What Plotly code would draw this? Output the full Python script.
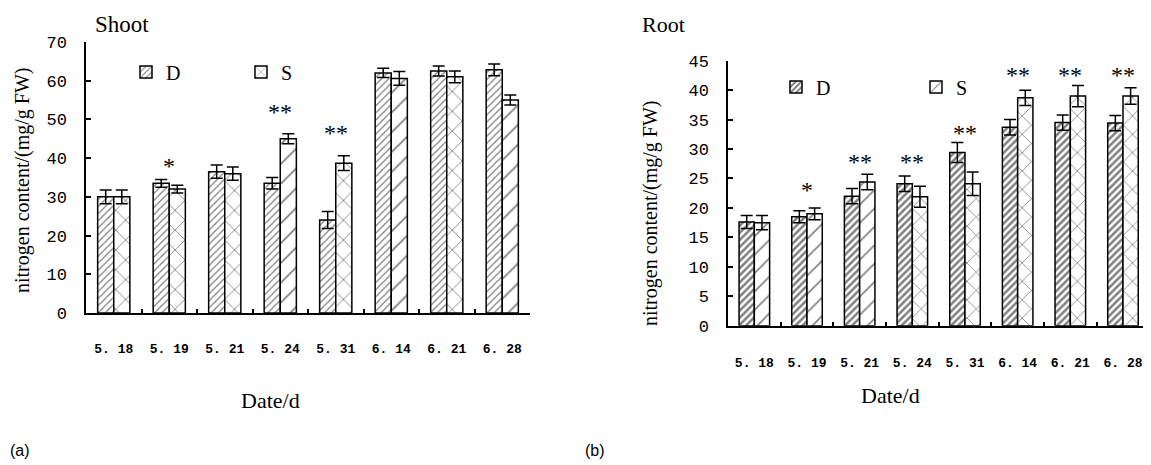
import plotly.graph_objects as go

# page has an 8px body margin; figure sized to fill the rest of the window
OFF = 8
W, H = 1151 - OFF, 465 - OFF

dates = ["5. 18", "5. 19", "5. 21", "5. 24", "5. 31", "6. 14", "6. 21", "6. 28"]

# Shoot (a)
shoot_D = [30.0, 33.5, 36.5, 33.5, 24.0, 62.0, 62.5, 62.8]
shoot_S = [30.0, 32.0, 36.0, 45.0, 38.7, 60.6, 61.0, 55.0]
shoot_D_err = [1.8, 1.0, 1.7, 1.5, 2.2, 1.2, 1.3, 1.5]
shoot_S_err = [1.8, 1.0, 1.7, 1.3, 1.9, 1.8, 1.5, 1.3]
shoot_sig = ["", "*", "", "**", "**", "", "*", "**"]
shoot_sig_y = [0, 39.5, 0, 53.5, 48.0, 0, 72.0, 75.5]

# Root (b)
root_D = [17.6, 18.5, 22.0, 24.1, 29.4, 33.7, 34.5, 34.4]
root_S = [17.5, 19.0, 24.4, 21.9, 24.1, 38.7, 39.0, 39.0]
root_D_err = [1.1, 1.0, 1.3, 1.3, 1.7, 1.3, 1.3, 1.3]
root_S_err = [1.2, 1.0, 1.3, 1.8, 2.0, 1.3, 1.8, 1.4]
root_sig = ["", "*", "**", "**", "**", "**", "**", "**"]
root_sig_y = [0, 24.0, 28.8, 28.8, 33.8, 43.6, 43.6, 43.6]

shoot_S_shapes = ["x", "x", "x", "/", "x", "/", "x", "/"]
root_S_shapes = ["/", "/", "/", "x", "x", "x", "x", "x"]

SERIF = "Liberation Serif"
MONO = "Liberation Mono"


def px_x(p):
    return (p - OFF) / W


def px_y(p):
    return (H - (p - OFF)) / H


fig = go.Figure()

common_err = dict(type="data", color="black", thickness=1.5, width=6, visible=True)

fig.add_trace(go.Bar(
    x=dates, y=shoot_D, name="D", xaxis="x", yaxis="y", legend="legend",
    error_y=dict(array=shoot_D_err, **common_err),
    marker=dict(color="white", line=dict(color="black", width=1.5),
                pattern=dict(shape="/", size=5, solidity=0.25, fgcolor="black", bgcolor="white")),
))
fig.add_trace(go.Bar(
    x=dates, y=shoot_S, name="S", xaxis="x", yaxis="y", legend="legend",
    error_y=dict(array=shoot_S_err, **common_err),
    marker=dict(color="white", line=dict(color="black", width=1.5),
                pattern=dict(shape=shoot_S_shapes, size=14, solidity=0.12, fgcolor="black", bgcolor="white")),
))
fig.add_trace(go.Bar(
    x=dates, y=root_D, name="D", xaxis="x2", yaxis="y2", legend="legend2",
    error_y=dict(array=root_D_err, **common_err),
    marker=dict(color="white", line=dict(color="black", width=1.5),
                pattern=dict(shape="/", size=5, solidity=0.5, fgcolor="black", bgcolor="white")),
))
fig.add_trace(go.Bar(
    x=dates, y=root_S, name="S", xaxis="x2", yaxis="y2", legend="legend2",
    error_y=dict(array=root_S_err, **common_err),
    marker=dict(color="white", line=dict(color="black", width=1.5),
                pattern=dict(shape=root_S_shapes, size=13, solidity=0.12, fgcolor="black", bgcolor="white")),
))

annotations = []
for i, (s, yv) in enumerate(zip(shoot_sig, shoot_sig_y)):
    if s:
        annotations.append(dict(x=dates[i], y=yv, xref="x", yref="y", text=s, showarrow=False,
                                yanchor="middle",
                                font=dict(family=SERIF, size=24, color="black"), yshift=-6))
for i, (s, yv) in enumerate(zip(root_sig, root_sig_y)):
    if s:
        annotations.append(dict(x=dates[i], y=yv, xref="x2", yref="y2", text=s, showarrow=False,
                                yanchor="middle",
                                font=dict(family=SERIF, size=24, color="black"), yshift=-6))

ytitle = "nitrogen content/(mg/g FW)"


def label(px, py, text, size, family=SERIF, xanchor="center", angle=0):
    return dict(x=px_x(px), y=px_y(py), xref="paper", yref="paper", text=text, showarrow=False,
                xanchor=xanchor, yanchor="middle", textangle=angle,
                font=dict(family=family, size=size, color="black"))


annotations += [
    label(93, 25, "Shoot", 23, xanchor="left"),
    label(640, 24, "Root", 22, xanchor="left"),
    label(22, 180, ytitle, 20, angle=-90),
    label(650, 213, ytitle, 20, angle=-90),
    label(270, 400, "Date/d", 22),
    label(890, 395, "Date/d", 22),
    label(8, 450, "(a)", 16, family="Liberation Sans", xanchor="left"),
    label(583, 450, "(b)", 16, family="Liberation Sans", xanchor="left"),
]

xcommon = dict(type="category", showline=True, linecolor="black", linewidth=2, ticks="inside",
               ticklen=4, tickcolor="black", tickwidth=1.5, tickson="boundaries", showgrid=False,
               tickfont=dict(family=MONO, size=13, color="black", weight="bold"), zeroline=False,
               automargin=False)
ycommon = dict(showline=True, linecolor="black", linewidth=1.5, ticks="inside", ticklen=5,
               tickcolor="black", tickwidth=1.5, showgrid=False, zeroline=False, automargin=False,
               tickfont=dict(family=MONO, size=17, color="black"))

fig.update_layout(
    width=W, height=H, margin=dict(l=0, r=0, t=0, b=0, autoexpand=False),
    paper_bgcolor="white", plot_bgcolor="white",
    barmode="group",
    xaxis=dict(domain=[px_x(86), px_x(530)], anchor="y", range=[-0.5, 7.5],
               ticklabelstandoff=22, **xcommon),
    yaxis=dict(domain=[px_y(313), px_y(42)], anchor="x", range=[0, 70], dtick=10,
               ticklabelstandoff=14, **ycommon),
    xaxis2=dict(domain=[px_x(728), px_x(1143)], anchor="y2", range=[-0.5, 7.38],
                ticklabelstandoff=24, **xcommon),
    yaxis2=dict(domain=[px_y(325.7), px_y(60.7)], anchor="x2", range=[0, 45], dtick=5,
                ticklabelstandoff=14, **ycommon),
    legend=dict(x=px_x(126), y=px_y(72), xanchor="left", yanchor="middle", orientation="h",
                entrywidth=70, bgcolor="rgba(0,0,0,0)", font=dict(family=SERIF, size=20, color="black")),
    legend2=dict(x=px_x(776), y=px_y(87), xanchor="left", yanchor="middle", orientation="h",
                 entrywidth=95, bgcolor="rgba(0,0,0,0)", font=dict(family=SERIF, size=20, color="black")),
    annotations=annotations,
    showlegend=True,
)
fig.update_layout(bargap=0.42, bargroupgap=0)

fig.write_html("out.html")
